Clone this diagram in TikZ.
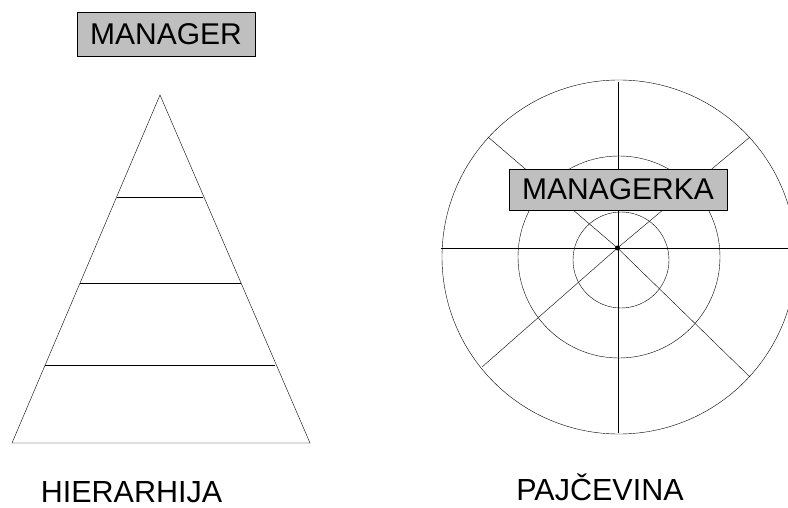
\documentclass[tikz,border=0pt]{standalone}
\usepackage{fontspec}
\setmainfont{Liberation Sans}
\usetikzlibrary{calc}
\pgfdeclarelayer{background}
\pgfdeclarelayer{foreground}
\pgfsetlayers{background,main,foreground}

\begin{document}
\begin{tikzpicture}[x=1pt,y=-1pt,line width=1.5pt,
  boss/.style={draw=black,fill=black!25,inner sep=0pt,font=\fontsize{30}{30}\selectfont},
  caption/.style={anchor=base,inner sep=0pt,font=\fontsize{30.5}{30}\selectfont}]
\useasboundingbox (0,0) rectangle (788,508);

\begin{pgfonlayer}{background}
% hierarhija
\draw (160,95) -- (12,443) -- (310,443) -- cycle;
\draw (117,197) -- (203,197);
\draw (80,283) -- (241,283);
\draw (45,365) -- (275,365);

% pajcevina
\coordinate (hub) at (617.5,248);
\draw (619,257) circle (177);
\draw (619,257) circle (101);
\draw (621,260) circle (48);
\draw (618,82) -- (618,433);
\draw (440.5,248) -- (788,248);
\draw (hub) -- (488,137);
\draw (hub) -- (750,137);
\draw (hub) -- (482,367);
\draw (hub) -- (750,377);
\fill (hub) circle (2.5);
\end{pgfonlayer}

\begin{pgfonlayer}{foreground}
\node [boss,minimum width=178,minimum height=44] (manager) at (166,34) {MANAGER};
\node [boss,minimum width=218,minimum height=41] (managerka) at (618,189.5) {MANAGERKA};
\node [caption] (hier) at (131.5,502) {HIERARHIJA};
\node [caption] (pajc) at (600,500) {PAJČEVINA};
\end{pgfonlayer}
\end{tikzpicture}
\end{document}
